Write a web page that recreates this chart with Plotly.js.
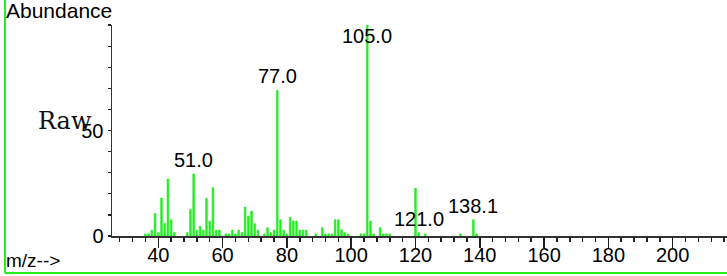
<!DOCTYPE html>
<html>
<head>
<meta charset="utf-8">
<script src="https://cdn.plot.ly/plotly-3.0.1.min.js"></script>
<style>
html,body{margin:0;padding:0;background:#fff;}
#chart{width:727px;height:276px;}
</style>
</head>
<body>
<div id="chart"></div>
<script>
const mz = [36,37,38,39,40,41,42,43,44,45,49,50,51,52,53,54,55,56,57,58,59,61,62,63,64,65,66,67,68,69,70,71,73,74,75,76,77,78,79,80,81,82,83,84,85,86,89,91,92,93,94,95,96,97,98,99,103,104,105,106,107,109,110,111,112,120,121,123,134,138,139];
const abundance = [1,1,2.8,10.7,1.6,18,6,27,7.7,1.7,1.7,12.6,29.4,2.8,4.6,2.8,17.8,7.1,22.9,2.8,2.8,1,1,2.8,1,2.8,1.7,13.7,9.5,11.8,5.8,2.8,1,3.9,1.6,2.8,69,7.7,2.8,1,8.8,7.1,7.1,2.8,2.8,2.8,1,3.9,1,1,1,7.7,7.7,3,1.6,1,1,1,100,7.1,1,3.9,1,1,1,22.6,1.6,1,1,7.7,1];
const peakMz = [51,77,105,121,138];
const peakText = ['51.0','77.0','105.0','121.0','138.1'];
const yTickVals = [0,10,20,30,40,50,60,70,80,90,100];
const yTickText = ['0','','','','','50','','','','',''];
const xRange = [25.6, 216.9];

const green = '#22ee22';
const font = 'Liberation Sans, Arial, sans-serif';
const serif = '"DejaVu Serif", "Liberation Serif", serif';

// plot area geometry helpers (paper coords)
const L = 112, R = 727, T = 25, B = 236;
const px = x => (x - L) / (R - L);
const py = y => (B - y) / (B - T);

const annotations = peakMz.map((m, i) => {
  const h = abundance[mz.indexOf(m)];
  return {
    x: m, y: Math.min(h, 88), xref: 'x', yref: 'y',
    text: peakText[i], showarrow: false, yshift: 14,
    xanchor: 'center', yanchor: 'middle',
    font: {family: font, size: 20, color: '#000'}
  };
});
annotations.push(
  {xref:'paper', yref:'paper', x: px(4), y: py(11), text:'Abundance', showarrow:false,
   xanchor:'left', yanchor:'middle', font:{family:font, size:21, color:'#000'}},
  {xref:'paper', yref:'paper', x: px(36), y: py(121), text:'Raw', showarrow:false,
   xanchor:'left', yanchor:'middle', font:{family:serif, size:24, color:'#111'}},
  {xref:'paper', yref:'paper', x: px(4), y: py(260), text:'m/z-->', showarrow:false,
   xanchor:'left', yanchor:'middle', font:{family:font, size:19, color:'#000'}},
  {xref:'paper', yref:'paper', x: px(8), y: py(287), text:'Abundance', showarrow:false,
   xanchor:'left', yanchor:'middle', font:{family:font, size:21, color:'#000'}}
);

const data = [{
  type: 'bar', x: mz, y: abundance, width: 0.55,
  marker: {color: green, line: {color: green, width: 0.6}},
  hoverinfo: 'none'
}];

const layout = {
  width: 727, height: 276,
  margin: {l: L, r: 727 - R, t: T, b: 276 - B, pad: 0},
  paper_bgcolor: '#fff', plot_bgcolor: '#fff',
  showlegend: false,
  bargap: 0,
  // main axis: line + labels
  xaxis: {
    range: xRange, tick0: 0, dtick: 20,
    ticks: '',
    showline: true, linecolor: '#333', linewidth: 1.5,
    showgrid: false, zeroline: false,
    tickfont: {family: font, size: 20, color: '#000'}
  },
  // overlay axis: tick marks (long major, short minor)
  xaxis2: {
    overlaying: 'x', anchor: 'y', side: 'bottom',
    range: xRange, tick0: 0, dtick: 20,
    ticks: 'outside', ticklen: 11, tickwidth: 1.5, tickcolor: '#222',
    minor: {dtick: 4, tick0: 0, ticks: 'outside', ticklen: 5, tickwidth: 1.5, tickcolor: '#222'},
    showticklabels: false, showline: false, showgrid: false, zeroline: false
  },
  yaxis: {
    range: [0, 100], tickmode: 'array', tickvals: yTickVals, ticktext: yTickText,
    ticks: 'outside', ticklen: 3, tickwidth: 1.2, tickcolor: '#222',
    showline: true, linecolor: '#333', linewidth: 1.5,
    showgrid: false, zeroline: false,
    tickfont: {family: font, size: 20, color: '#000'}
  },
  annotations: annotations,
  shapes: [
    {type:'line', xref:'paper', yref:'paper', x0: px(5), x1: px(5), y0: py(0), y1: py(273),
     line:{color: green, width: 2}},
    {type:'line', xref:'paper', yref:'paper', x0: px(5), x1: px(727), y0: py(273), y1: py(273),
     line:{color: green, width: 2}}
  ]
};

// invisible trace so the overlay axis is drawn
data.push({type: 'scatter', x: xRange, y: [0, 0], xaxis: 'x2', yaxis: 'y',
  mode: 'markers', marker: {opacity: 0}, hoverinfo: 'none'});

Plotly.newPlot('chart', data, layout, {staticPlot: true, displayModeBar: false});
</script>
</body>
</html>
